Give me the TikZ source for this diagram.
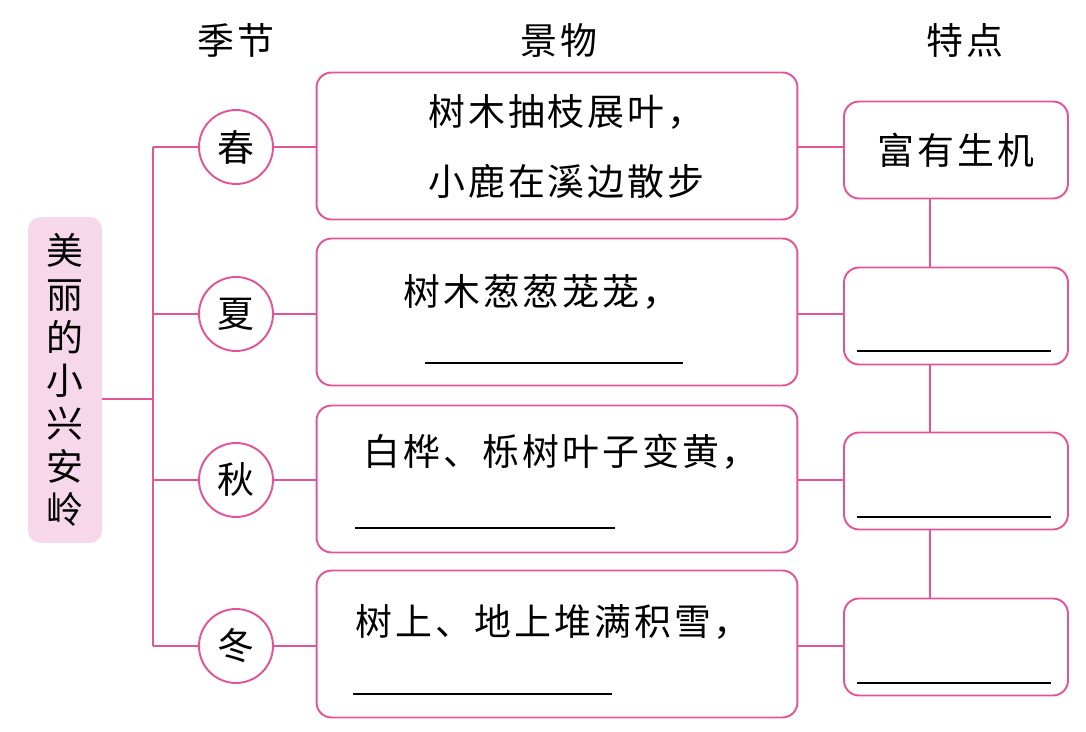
\documentclass[tikz,border=0pt]{standalone}
\usepackage{fontspec}
\setmainfont{Noto Sans CJK SC}[LetterSpace=8]
\definecolor{rosa}{RGB}{226,84,152}
\definecolor{rosafill}{RGB}{247,216,235}

\begin{document}
\begin{tikzpicture}[
  x=0.02cm, y=-0.02cm,
  every node/.style={font=\fontsize{21}{24.5}\selectfont},
  title/.style={fill=rosafill, rounded corners=0.25cm, minimum width=1.48cm, minimum height=6.52cm, align=center, inner sep=0pt},
  season/.style={circle, draw=rosa, line width=1.1pt, minimum size=1.48cm, inner sep=0pt},
  scene/.style={rectangle, rounded corners=0.3cm, draw=rosa, line width=1.1pt, minimum width=9.62cm, minimum height=2.94cm},
  trait/.style={rectangle, rounded corners=0.3cm, draw=rosa, line width=1.1pt, minimum width=4.48cm, minimum height=1.94cm},
  words/.style={anchor=west, inner sep=0pt},
  line/.style={rosa, line width=1.1pt},
  blank/.style={black, line width=0.8pt}
]
  \useasboundingbox (0,0) rectangle (1086,732);

  % Headers
  \node (hseason) at (236,40) {季节};
  \node (hscene) at (559,40) {景物};
  \node (htrait) at (965,40) {特点};

  % Title
  \node[title] (ttl) at (65,380) {美\\丽\\的\\小\\兴\\安\\岭};

  % Seasons
  \node[season] (s1) at (236,147) {春};
  \node[season] (s2) at (236,314) {夏};
  \node[season] (s3) at (236,480) {秋};
  \node[season] (s4) at (236,646) {冬};

  % Scenes
  \node[scene] (m1) at (557,146) {};
  \node[scene] (m2) at (557,312) {};
  \node[scene] (m3) at (557,479) {};
  \node[scene] (m4) at (557,644) {};
  \node[words] (t1a) at (428,112) {树木抽枝展叶，};
  \node[words] (t1b) at (428,181) {小鹿在溪边散步};
  \node[words] (t2) at (403,292) {树木葱葱茏茏，};
  \node[words] (t3) at (363,452) {白桦、栎树叶子变黄，};
  \node[words] (t4) at (355,622) {树上、地上堆满积雪，};

  % Traits
  \node[trait] (r1) at (956,150) {富有生机};
  \node[trait] (r2) at (956,316) {};
  \node[trait] (r3) at (956,481) {};
  \node[trait] (r4) at (956,647) {};

  % Blanks
  \draw[blank] (425,363) -- (683,363);
  \draw[blank] (355,528) -- (615,528);
  \draw[blank] (353,694) -- (612,694);
  \draw[blank] (857,351) -- (1051,351);
  \draw[blank] (857,517) -- (1051,517);
  \draw[blank] (857,683) -- (1051,683);

  % Connectors
  \coordinate (trunk) at (153,399);
  \coordinate (spine) at (930,0);
  \draw[line] (ttl.east |- trunk) -- (trunk);
  \draw[line] (trunk |- s1) -- (trunk |- s4);
  \draw[line] (trunk |- s1) -- (s1.west);
  \draw[line] (trunk |- s2) -- (s2.west);
  \draw[line] (trunk |- s3) -- (s3.west);
  \draw[line] (trunk |- s4) -- (s4.west);
  \draw[line] (s1.east) -- (s1.east -| m1.west);
  \draw[line] (s2.east) -- (s2.east -| m2.west);
  \draw[line] (s3.east) -- (s3.east -| m3.west);
  \draw[line] (s4.east) -- (s4.east -| m4.west);
  \draw[line] (m1.east |- s1) -- (r1.west |- s1);
  \draw[line] (m2.east |- s2) -- (r2.west |- s2);
  \draw[line] (m3.east |- s3) -- (r3.west |- s3);
  \draw[line] (m4.east |- s4) -- (r4.west |- s4);
  \draw[line] (r1.south -| spine) -- (r2.north -| spine);
  \draw[line] (r2.south -| spine) -- (r3.north -| spine);
  \draw[line] (r3.south -| spine) -- (r4.north -| spine);
\end{tikzpicture}
\end{document}
